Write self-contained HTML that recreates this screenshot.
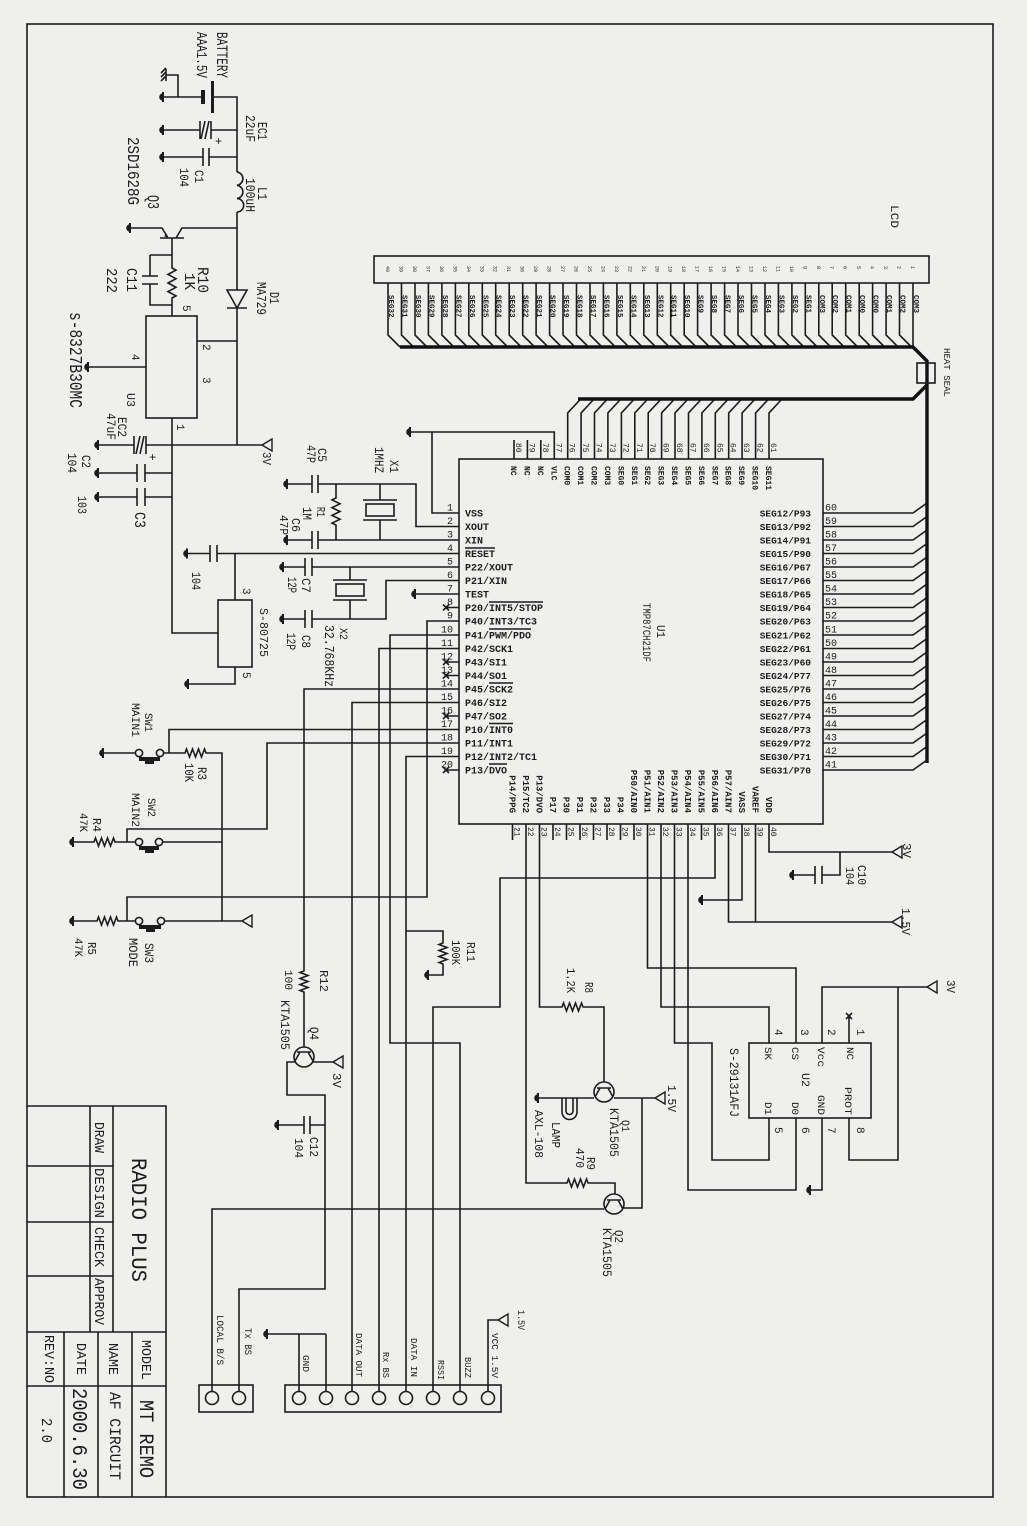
<!DOCTYPE html>
<html><head><meta charset="utf-8"><style>
html,body{margin:0;padding:0;background:#efefed;}
svg{display:block}
text{font-family:"Liberation Mono","DejaVu Sans Mono",monospace;fill:#1c1c1c}
.w{fill:none;stroke:#1c1c1c;stroke-width:1.6}
.k{fill:none;stroke:#111;stroke-width:3.4}
.b{font-weight:bold}
</style></head><body>
<svg width="1027" height="1526" viewBox="0 0 1027 1526" xmlns="http://www.w3.org/2000/svg">
<defs>
<g id="gnd"><path d="M0 -5V5" stroke="#1c1c1c" stroke-width="2"/><path d="M0 -3.8A3.8 3.8 0 0 0 0 3.8Z" fill="#1c1c1c"/></g>
<path id="arr" d="M0 0L10 -6V6Z" fill="none" stroke="#1c1c1c" stroke-width="1.4"/>
</defs>
<rect x="0" y="0" width="1027" height="1526" fill="#efefed"/>
<!-- border -->
<rect x="27" y="24" width="966" height="1473" class="w"/>

<!-- ===== power section ===== -->
<path class="w" d="M163 97H203M213 97H237V172
M237 172a6.7 6.7 0 0 1 0 13.3a6.7 6.7 0 0 1 0 13.3a6.7 6.7 0 0 1 0 13.4
M237 212V290M227 290H247L237 308ZM227 308H247M237 308V445
M197 341H237
M163 130H200M211 130H237M200 121V139M211 121V139M201 139L205 121M205 139L209 121
M163 157H203M209 157H237M203 148V166M209 148V166
M130 228H162L168 238M160 238H184M176 238L182 228H237M172 238V255
M150 255H172V268l4 2.14l-8 4.29l8 4.29l-8 4.29l8 4.29l-8 4.29l8 4.29l-4 2.14V316
M150 255V276M142 276H158M142 284H158M150 284V305H172
M88 367H146M172 418V633H218
M98 445H134M146 445H262M134 436V454M146 436V454M136 454L140 436M140 454L144 436
M98 473H137M145 473H172M137 464V482M145 464V482
M98 497H137M145 497H172M137 488V506M145 488V506
M178 97V75H166M166 69V81M161 73L166 68M161 77L166 72M161 81L166 76"/>
<path d="M201 90h4v14h-4z" fill="#1c1c1c"/>
<path d="M211 81h3v32h-3z" fill="#1c1c1c"/>
<path d="M164 236l4 2l-1 -4z" fill="#1c1c1c"/>
<rect x="146" y="316" width="51" height="102" class="w"/>
<text x="215" y="145" font-size="12">+</text>
<text x="149" y="461" font-size="12">+</text>

<!-- ===== crystal / reset ===== -->
<path class="w" d="M410 432H554.3V459M432 432V513H459
M287 484H312M318 484H416V526.5H459M312 475V493M318 475V493
M336 484V498l-4 1.93l8 3.86l-8 3.86l8 3.86l-8 3.86l8 3.86l-8 3.86l4 1.93V540
M380 484V500M363 500H397M363 520H397M380 520V540
M287 540H312M318 540H459M312 531V549M318 531V549
M187 553.5H210M217 553.5H459M210 545V562M217 545V562M235 553.5V600M235 667V684H188
M283 567H305M312 567H459M305 558V576M312 558V576
M350 567V580M333 580H367M333 600H367M350 600V619
M283 619H305M312 619H386V580.5H459M305 610V628M312 610V628
M415 594H459"/>
<rect x="366" y="504" width="28" height="12" class="w"/>
<rect x="336" y="584" width="28" height="12" class="w"/>
<rect x="218" y="600" width="34" height="67" class="w"/>

<!-- ===== U1 ===== -->
<rect x="459" y="459" width="364" height="365" class="w"/>
<!-- left pin wires -->
<path class="w" d="M445 607.5H459M445 662H459M445 675.5H459M445 716H459M445 770H459
M443 604.5l6 6M443 610.5l6 -6M443 659l6 6M443 665l6 -6M443 672.5l6 6M443 678.5l6 -6M443 713l6 6M443 719l6 -6M443 767l6 6M443 773l6 -6
M459 621H427V897H127V921
M459 635H390V1043H460V1391
M459 648.5H379V1391
M459 689H304V971l-4 1.5l8 3l-8 3l8 3l-8 3l8 3l-8 3l4 1.5V1047
M459 702.5H352V1391
M459 729.5H169V753
M459 743H267V829H127V842
M459 756.5H406V1391M406 931H443V943l-4 1.5l8 3l-8 3l8 3l-8 3l8 3l-8 3l4 1.5V975H428"/>
<!-- switches -->
<path class="w" d="M103 753H135M164 753H185l1.5 -4l3 8l3 -8l3 8l3 -8l3 8l3 -8l1.5 4H222V921
M73 842H94l1.5 -4l3 8l3 -8l3 8l3 -8l3 8l3 -8l1.5 4H135M163 842H222
M73 921H97l1.5 -4l3 8l3 -8l3 8l3 -8l3 8l3 -8l1.5 4H135M165 921H242"/>
<circle cx="139" cy="753" r="3.6" class="w"/><circle cx="160" cy="753" r="3.6" class="w"/>
<circle cx="139" cy="842" r="3.6" class="w"/><circle cx="159" cy="842" r="3.6" class="w"/>
<circle cx="139" cy="921" r="3.6" class="w"/><circle cx="161" cy="921" r="3.6" class="w"/>
<path d="M139 757h21v4h-21zM145 761h9v3h-9zM139 846h20v4h-20zM145 850h9v3h-9zM139 925h22v4h-22zM146 929h9v3h-9z" fill="#1c1c1c"/>

<!-- Q4 / connectors -->
<circle cx="304" cy="1057" r="10" class="w"/>
<path class="w" d="M297 1052H311M300 1052L295 1061M308 1052L313 1061M313 1062H333
M295 1062H287V1095H325V1289H239V1391M325 1125H310M304 1125H278M310 1116V1134M304 1116V1134
M212 1391V1209H604M267 1334H326M299 1334V1391M326 1334V1391M488 1391V1320H498
M715 824V878H500V1007H433V1391"/>
<rect x="199" y="1385" width="54" height="27" class="w"/>
<circle cx="212" cy="1398" r="6.5" class="w"/><circle cx="239" cy="1398" r="6.5" class="w"/>
<rect x="285" y="1385" width="216" height="27" class="w"/>
<circle cx="299" cy="1398" r="6.5" class="w"/><circle cx="326" cy="1398" r="6.5" class="w"/><circle cx="352" cy="1398" r="6.5" class="w"/><circle cx="379" cy="1398" r="6.5" class="w"/><circle cx="406" cy="1398" r="6.5" class="w"/><circle cx="433" cy="1398" r="6.5" class="w"/><circle cx="460" cy="1398" r="6.5" class="w"/><circle cx="488" cy="1398" r="6.5" class="w"/>

<!-- bottom right -->
<path class="w" d="M526 824V1183H567l1.5 -4l3 8l3 -8l3 8l3 -8l3 8l3 -8l1.5 4H615V1194
M539.5 824V1007H562l1.5 -4l3 8l3 -8l3 8l3 -8l3 8l3 -8l1.5 4H604V1082
M594 1098H538M614 1098H655M642 1098V1208H624
M562 1098V1112a7.5 7.5 0 0 0 15 0V1098M566 1098V1111a3.5 3.5 0 0 0 7 0V1098
M597 1088H611M600 1088L595 1097M608 1088L613 1097
M607 1200H621M610 1200L605 1209M618 1200L623 1209
M647.5 824V968H796V1043
M661 824V1007H769V1043
M674.5 824V1043H712V1160H769V1118
M688 824V1190H796V1118
M728.5 824V922H892
M742 824V900H702
M755.5 824V922
M769 824V852H892M840 852V875H822M822 866V884M815 866V884M815 875H793
M822 1043V987H927M898 987V1160H849V1118M849 1043V1016M846 1013l6 6M846 1019l6 -6
M822 1118V1190H810
M769 1028V1043M796 1028V1043M769 1118V1133M796 1118V1133
M512.5 824V840M553 824V840M566.5 824V840M580 824V840M593.5 824V840M607 824V840M620.5 824V840M634 824V840M701.5 824V840"/>
<circle cx="604" cy="1092" r="10" class="w"/>
<circle cx="614" cy="1204" r="10" class="w"/>
<rect x="749" y="1043" width="122" height="75" class="w"/>

<!-- top pins -->
<path class="w" d="M514 440V459M527.4 440V459M540.8 440V459
M567.7 459V413l13 -14M581.1 459V413l13 -14M594.5 459V413l13 -14M607.9 459V413l13 -14M621.4 459V413l13 -14M634.8 459V413l13 -14M648.2 459V413l13 -14M661.6 459V413l13 -14M675 459V413l13 -14M688.5 459V413l13 -14M701.9 459V413l13 -14M715.3 459V413l13 -14M728.7 459V413l13 -14M742.1 459V413l13 -14M755.6 459V413l13 -14M769 459V413l13 -14"/>
<!-- right pins -->
<path class="w" d="M823 513H913l14 -10M823 526.5H913l14 -10M823 540H913l14 -10M823 553.5H913l14 -10M823 567H913l14 -10M823 580.5H913l14 -10M823 594H913l14 -10M823 607.5H913l14 -10M823 621H913l14 -10M823 635H913l14 -10M823 648.5H913l14 -10M823 662H913l14 -10M823 675.5H913l14 -10M823 689H913l14 -10M823 702.5H913l14 -10M823 716H913l14 -10M823 729.5H913l14 -10M823 743H913l14 -10M823 756.5H913l14 -10M823 770H913l14 -10"/>

<!-- LCD -->
<rect x="374" y="256" width="555" height="27" class="w"/>
<path class="w" d="M913 283V347M899.5 283V335l12 12M886.1 283V335l12 12M872.6 283V335l12 12M859.2 283V335l12 12M845.7 283V335l12 12M832.2 283V335l12 12M818.8 283V335l12 12M805.3 283V335l12 12M791.9 283V335l12 12M778.4 283V335l12 12M765 283V335l12 12M751.5 283V335l12 12M738 283V335l12 12M724.6 283V335l12 12M711.1 283V335l12 12M697.6 283V335l12 12M684.2 283V335l12 12M670.7 283V335l12 12M657.3 283V335l12 12M643.8 283V335l12 12M630.3 283V335l12 12M616.9 283V335l12 12M603.4 283V335l12 12M590 283V335l12 12M576.5 283V335l12 12M563 283V335l12 12M549.6 283V335l12 12M536.1 283V335l12 12M522.7 283V335l12 12M509.2 283V335l12 12M495.7 283V335l12 12M482.3 283V335l12 12M468.8 283V335l12 12M455.4 283V335l12 12M441.9 283V335l12 12M428.4 283V335l12 12M415 283V335l12 12M401.5 283V335l12 12M388 283V335l12 12"/>
<path class="k" d="M400 347H913L927 361V763M927 385L913 399H578"/>
<rect x="917" y="363" width="18" height="20" class="w"/>

<!-- title block -->
<path class="w" d="M27 1106H166V1497M90 1106V1332M113 1106V1332M27 1332H166M27 1166H113M27 1222H113M27 1276H113M64 1332V1497M98 1332V1497M132 1332V1497M27 1386H166"/>

<!-- grounds -->
<use href="#gnd" x="163" y="97"/><use href="#gnd" x="163" y="130"/><use href="#gnd" x="163" y="157"/><use href="#gnd" x="130" y="228"/><use href="#gnd" x="88" y="367"/><use href="#gnd" x="98" y="445"/><use href="#gnd" x="98" y="473"/><use href="#gnd" x="98" y="497"/><use href="#gnd" x="410" y="432"/><use href="#gnd" x="287" y="484"/><use href="#gnd" x="287" y="540"/><use href="#gnd" x="187" y="553.5"/><use href="#gnd" x="188" y="684"/><use href="#gnd" x="283" y="567"/><use href="#gnd" x="283" y="619"/><use href="#gnd" x="415" y="594"/><use href="#gnd" x="103" y="753"/><use href="#gnd" x="73" y="842"/><use href="#gnd" x="73" y="921"/><use href="#gnd" x="428" y="975"/><use href="#gnd" x="278" y="1125"/><use href="#gnd" x="267" y="1334"/><use href="#gnd" x="538" y="1098"/><use href="#gnd" x="702" y="900"/><use href="#gnd" x="793" y="875"/><use href="#gnd" x="810" y="1190"/>
<!-- power arrows -->
<use href="#arr" x="262" y="445"/><use href="#arr" x="242" y="921"/><use href="#arr" x="333" y="1062"/><use href="#arr" x="498" y="1320"/><use href="#arr" x="655" y="1098"/><use href="#arr" x="892" y="852"/><use href="#arr" x="892" y="922"/><use href="#arr" x="927" y="987"/>

<!-- ===== rotated component labels ===== -->
<g>
<text transform="translate(217 32) rotate(90)" font-size="16" textLength="46" lengthAdjust="spacingAndGlyphs">BATTERY</text>
<text transform="translate(197 32) rotate(90)" font-size="15" textLength="46" lengthAdjust="spacingAndGlyphs">AAA1.5V</text>
<text transform="translate(258 122) rotate(90)" font-size="14" textLength="18" lengthAdjust="spacingAndGlyphs">EC1</text>
<text transform="translate(246 115) rotate(90)" font-size="14" textLength="27" lengthAdjust="spacingAndGlyphs">22uF</text>
<text transform="translate(195 170) rotate(90)" font-size="13" textLength="13" lengthAdjust="spacingAndGlyphs">C1</text>
<text transform="translate(180 168) rotate(90)" font-size="13" textLength="19" lengthAdjust="spacingAndGlyphs">104</text>
<text transform="translate(258 187) rotate(90)" font-size="14" textLength="13" lengthAdjust="spacingAndGlyphs">L1</text>
<text transform="translate(246 178) rotate(90)" font-size="14" textLength="34" lengthAdjust="spacingAndGlyphs">100uH</text>
<text transform="translate(148 195) rotate(90)" font-size="17" textLength="14" lengthAdjust="spacingAndGlyphs">Q3</text>
<text transform="translate(128 137) rotate(90)" font-size="17" textLength="68" lengthAdjust="spacingAndGlyphs">2SD1628G</text>
<text transform="translate(198 267) rotate(90)" font-size="16" textLength="26" lengthAdjust="spacingAndGlyphs">R10</text>
<text transform="translate(185 273) rotate(90)" font-size="15" textLength="17" lengthAdjust="spacingAndGlyphs">1K</text>
<text transform="translate(127 268) rotate(90)" font-size="15" textLength="24" lengthAdjust="spacingAndGlyphs">C11</text>
<text transform="translate(107 268) rotate(90)" font-size="15" textLength="25" lengthAdjust="spacingAndGlyphs">222</text>
<text transform="translate(270 292) rotate(90)" font-size="14" textLength="12" lengthAdjust="spacingAndGlyphs">D1</text>
<text transform="translate(257 282) rotate(90)" font-size="14" textLength="33" lengthAdjust="spacingAndGlyphs">MA729</text>
<text transform="translate(70 312) rotate(90)" font-size="18" textLength="96" lengthAdjust="spacingAndGlyphs">s-8327B30MC</text>
<text transform="translate(127 393) rotate(90)" font-size="12" textLength="14" lengthAdjust="spacingAndGlyphs">U3</text>
<text transform="translate(118 417) rotate(90)" font-size="13" textLength="20" lengthAdjust="spacingAndGlyphs">EC2</text>
<text transform="translate(107 413) rotate(90)" font-size="13" textLength="27" lengthAdjust="spacingAndGlyphs">47uF</text>
<text transform="translate(263 452) rotate(90)" font-size="12" textLength="13" lengthAdjust="spacingAndGlyphs">3V</text>
<text transform="translate(82 455) rotate(90)" font-size="13" textLength="13" lengthAdjust="spacingAndGlyphs">C2</text>
<text transform="translate(68 453) rotate(90)" font-size="13" textLength="20" lengthAdjust="spacingAndGlyphs">104</text>
<text transform="translate(78 496) rotate(90)" font-size="13" textLength="18" lengthAdjust="spacingAndGlyphs">103</text>
<text transform="translate(135 512) rotate(90)" font-size="16" textLength="16" lengthAdjust="spacingAndGlyphs">C3</text>
<text transform="translate(183 305) rotate(90)" font-size="11">5</text>
<text transform="translate(203 344) rotate(90)" font-size="11">2</text>
<text transform="translate(203 377) rotate(90)" font-size="11">3</text>
<text transform="translate(132 354) rotate(90)" font-size="11">4</text>
<text transform="translate(177 424) rotate(90)" font-size="11">1</text>
<text transform="translate(318 448) rotate(90)" font-size="13" textLength="14" lengthAdjust="spacingAndGlyphs">C5</text>
<text transform="translate(307 445) rotate(90)" font-size="13" textLength="18" lengthAdjust="spacingAndGlyphs">47P</text>
<text transform="translate(390 460) rotate(90)" font-size="13" textLength="13" lengthAdjust="spacingAndGlyphs">X1</text>
<text transform="translate(375 447) rotate(90)" font-size="13" textLength="26" lengthAdjust="spacingAndGlyphs">1MHZ</text>
<text transform="translate(317 507) rotate(90)" font-size="12" textLength="10" lengthAdjust="spacingAndGlyphs">R1</text>
<text transform="translate(303 507) rotate(90)" font-size="13" textLength="13" lengthAdjust="spacingAndGlyphs">1M</text>
<text transform="translate(292 518) rotate(90)" font-size="12" textLength="14" lengthAdjust="spacingAndGlyphs">C6</text>
<text transform="translate(280 515) rotate(90)" font-size="12" textLength="20" lengthAdjust="spacingAndGlyphs">47P</text>
<text transform="translate(192 572) rotate(90)" font-size="13" textLength="18" lengthAdjust="spacingAndGlyphs">104</text>
<text transform="translate(243 588) rotate(90)" font-size="11">3</text>
<text transform="translate(243 672) rotate(90)" font-size="11">5</text>
<text transform="translate(260 608) rotate(90)" font-size="12" textLength="49" lengthAdjust="spacingAndGlyphs">S-80725</text>
<text transform="translate(302 578) rotate(90)" font-size="13" textLength="15" lengthAdjust="spacingAndGlyphs">C7</text>
<text transform="translate(288 577) rotate(90)" font-size="13" textLength="16" lengthAdjust="spacingAndGlyphs">12P</text>
<text transform="translate(302 635) rotate(90)" font-size="13" textLength="13" lengthAdjust="spacingAndGlyphs">C8</text>
<text transform="translate(287 633) rotate(90)" font-size="13" textLength="17" lengthAdjust="spacingAndGlyphs">12P</text>
<text transform="translate(340 628) rotate(90)" font-size="11" textLength="12" lengthAdjust="spacingAndGlyphs">X2</text>
<text transform="translate(325 625) rotate(90)" font-size="14" textLength="62" lengthAdjust="spacingAndGlyphs">32.768KHz</text>
<text transform="translate(145 713) rotate(90)" font-size="11" textLength="19" lengthAdjust="spacingAndGlyphs">SW1</text>
<text transform="translate(132 703) rotate(90)" font-size="11" textLength="34" lengthAdjust="spacingAndGlyphs">MAIN1</text>
<text transform="translate(198 767) rotate(90)" font-size="13" textLength="13" lengthAdjust="spacingAndGlyphs">R3</text>
<text transform="translate(185 763) rotate(90)" font-size="13" textLength="19" lengthAdjust="spacingAndGlyphs">10K</text>
<text transform="translate(148 798) rotate(90)" font-size="11" textLength="19" lengthAdjust="spacingAndGlyphs">SW2</text>
<text transform="translate(132 793) rotate(90)" font-size="11" textLength="34" lengthAdjust="spacingAndGlyphs">MAIN2</text>
<text transform="translate(93 818) rotate(90)" font-size="12" textLength="14" lengthAdjust="spacingAndGlyphs">R4</text>
<text transform="translate(80 813) rotate(90)" font-size="11" textLength="19" lengthAdjust="spacingAndGlyphs">47K</text>
<text transform="translate(88 942) rotate(90)" font-size="12" textLength="13" lengthAdjust="spacingAndGlyphs">R5</text>
<text transform="translate(75 938) rotate(90)" font-size="11" textLength="19" lengthAdjust="spacingAndGlyphs">47K</text>
<text transform="translate(145 943) rotate(90)" font-size="13" textLength="20" lengthAdjust="spacingAndGlyphs">SW3</text>
<text transform="translate(129 938) rotate(90)" font-size="13" textLength="29" lengthAdjust="spacingAndGlyphs">MODE</text>
<text transform="translate(320 970) rotate(90)" font-size="12" textLength="22" lengthAdjust="spacingAndGlyphs">R12</text>
<text transform="translate(285 970) rotate(90)" font-size="11" textLength="20" lengthAdjust="spacingAndGlyphs">100</text>
<text transform="translate(281 1000) rotate(90)" font-size="13" textLength="50" lengthAdjust="spacingAndGlyphs">KTA1505</text>
<text transform="translate(310 1027) rotate(90)" font-size="13" textLength="13" lengthAdjust="spacingAndGlyphs">Q4</text>
<text transform="translate(333 1073) rotate(90)" font-size="12" textLength="15" lengthAdjust="spacingAndGlyphs">3V</text>
<text transform="translate(467 942) rotate(90)" font-size="12" textLength="20" lengthAdjust="spacingAndGlyphs">R11</text>
<text transform="translate(452 940) rotate(90)" font-size="12" textLength="25" lengthAdjust="spacingAndGlyphs">100K</text>
<text transform="translate(310 1137) rotate(90)" font-size="12" textLength="20" lengthAdjust="spacingAndGlyphs">C12</text>
<text transform="translate(295 1138) rotate(90)" font-size="12" textLength="20" lengthAdjust="spacingAndGlyphs">104</text>
<text transform="translate(567 968) rotate(90)" font-size="12" textLength="25" lengthAdjust="spacingAndGlyphs">1.2K</text>
<text transform="translate(585 982) rotate(90)" font-size="12" textLength="11" lengthAdjust="spacingAndGlyphs">R8</text>
<text transform="translate(552 1122) rotate(90)" font-size="12" textLength="26" lengthAdjust="spacingAndGlyphs">LAMP</text>
<text transform="translate(535 1110) rotate(90)" font-size="12" textLength="48" lengthAdjust="spacingAndGlyphs">AXL-108</text>
<text transform="translate(622 1120) rotate(90)" font-size="11" textLength="12" lengthAdjust="spacingAndGlyphs">Q1</text>
<text transform="translate(610 1108) rotate(90)" font-size="13" textLength="49" lengthAdjust="spacingAndGlyphs">KTA1505</text>
<text transform="translate(668 1085) rotate(90)" font-size="12" textLength="27" lengthAdjust="spacingAndGlyphs">1.5V</text>
<text transform="translate(587 1157) rotate(90)" font-size="12" textLength="13" lengthAdjust="spacingAndGlyphs">R9</text>
<text transform="translate(576 1148) rotate(90)" font-size="12" textLength="20" lengthAdjust="spacingAndGlyphs">470</text>
<text transform="translate(615 1230) rotate(90)" font-size="12" textLength="13" lengthAdjust="spacingAndGlyphs">Q2</text>
<text transform="translate(603 1228) rotate(90)" font-size="13" textLength="49" lengthAdjust="spacingAndGlyphs">KTA1505</text>
<text transform="translate(730 1048) rotate(90)" font-size="13" textLength="69" lengthAdjust="spacingAndGlyphs">S-29131AFJ</text>
<text transform="translate(903 843) rotate(90)" font-size="12" textLength="15" lengthAdjust="spacingAndGlyphs">3V</text>
<text transform="translate(858 865) rotate(90)" font-size="12" textLength="20" lengthAdjust="spacingAndGlyphs">C10</text>
<text transform="translate(846 867) rotate(90)" font-size="12" textLength="18" lengthAdjust="spacingAndGlyphs">104</text>
<text transform="translate(902 908) rotate(90)" font-size="12" textLength="27" lengthAdjust="spacingAndGlyphs">1.5V</text>
<text transform="translate(947 980) rotate(90)" font-size="12" textLength="13" lengthAdjust="spacingAndGlyphs">3V</text>
<text transform="translate(765 1047) rotate(90)" font-size="10" textLength="13" lengthAdjust="spacingAndGlyphs">SK</text>
<text transform="translate(792 1047) rotate(90)" font-size="10" textLength="13" lengthAdjust="spacingAndGlyphs">CS</text>
<text transform="translate(818 1047) rotate(90)" font-size="10" textLength="20" lengthAdjust="spacingAndGlyphs">Vcc</text>
<text transform="translate(847 1047) rotate(90)" font-size="10" textLength="13" lengthAdjust="spacingAndGlyphs">NC</text>
<text transform="translate(802 1073) rotate(90)" font-size="11" textLength="14" lengthAdjust="spacingAndGlyphs">U2</text>
<text transform="translate(765 1102) rotate(90)" font-size="10" textLength="13" lengthAdjust="spacingAndGlyphs">D1</text>
<text transform="translate(792 1102) rotate(90)" font-size="10" textLength="13" lengthAdjust="spacingAndGlyphs">D0</text>
<text transform="translate(818 1095) rotate(90)" font-size="10" textLength="20" lengthAdjust="spacingAndGlyphs">GND</text>
<text transform="translate(845 1087) rotate(90)" font-size="10" textLength="28" lengthAdjust="spacingAndGlyphs">PROT</text>
<text transform="translate(775 1029) rotate(90)" font-size="11">4</text>
<text transform="translate(801 1029) rotate(90)" font-size="11">3</text>
<text transform="translate(828 1029) rotate(90)" font-size="11">2</text>
<text transform="translate(857 1029) rotate(90)" font-size="11">1</text>
<text transform="translate(775 1127) rotate(90)" font-size="11">5</text>
<text transform="translate(802 1127) rotate(90)" font-size="11">6</text>
<text transform="translate(828 1127) rotate(90)" font-size="11">7</text>
<text transform="translate(857 1127) rotate(90)" font-size="11">8</text>
<text transform="translate(657 625) rotate(90)" font-size="12" textLength="13" lengthAdjust="spacingAndGlyphs">U1</text>
<text transform="translate(643 603) rotate(90)" font-size="11" textLength="59" lengthAdjust="spacingAndGlyphs">TMP87CH21DF</text>
<text transform="translate(891 205) rotate(90)" font-size="11" textLength="23" lengthAdjust="spacingAndGlyphs">LCD</text>
<text transform="translate(944 348) rotate(90)" font-size="9" textLength="49" lengthAdjust="spacingAndGlyphs">HEAT SEAL</text>
<!-- title block -->
<text transform="translate(132 1158) rotate(90)" font-size="22" textLength="124" lengthAdjust="spacingAndGlyphs">RADIO PLUS</text>
<text transform="translate(95 1122) rotate(90)" font-size="14" textLength="31" lengthAdjust="spacingAndGlyphs">DRAW</text>
<text transform="translate(95 1168) rotate(90)" font-size="14" textLength="50" lengthAdjust="spacingAndGlyphs">DESIGN</text>
<text transform="translate(95 1227) rotate(90)" font-size="14" textLength="40" lengthAdjust="spacingAndGlyphs">CHECK</text>
<text transform="translate(95 1278) rotate(90)" font-size="14" textLength="47" lengthAdjust="spacingAndGlyphs">APPROV</text>
<text transform="translate(142 1340) rotate(90)" font-size="14" textLength="40" lengthAdjust="spacingAndGlyphs">MODEL</text>
<text transform="translate(140 1400) rotate(90)" font-size="20" textLength="78" lengthAdjust="spacingAndGlyphs">MT REMO</text>
<text transform="translate(109 1343) rotate(90)" font-size="14" textLength="32" lengthAdjust="spacingAndGlyphs">NAME</text>
<text transform="translate(110 1392) rotate(90)" font-size="16" textLength="88" lengthAdjust="spacingAndGlyphs">AF CIRCUIT</text>
<text transform="translate(77 1343) rotate(90)" font-size="14" textLength="32" lengthAdjust="spacingAndGlyphs">DATE</text>
<text transform="translate(73 1388) rotate(90)" font-size="21" textLength="102" lengthAdjust="spacingAndGlyphs">2000.6.30</text>
<text transform="translate(45 1335) rotate(90)" font-size="14" textLength="48" lengthAdjust="spacingAndGlyphs">REV:NO</text>
<text transform="translate(42 1418) rotate(90)" font-size="15" textLength="25" lengthAdjust="spacingAndGlyphs">2.0</text>
<!-- connector labels -->
<text transform="translate(217 1315) rotate(90)" font-size="10" textLength="50" lengthAdjust="spacingAndGlyphs">LOCAL B/S</text>
<text transform="translate(245 1328) rotate(90)" font-size="10" textLength="27" lengthAdjust="spacingAndGlyphs">Tx BS</text>
<text transform="translate(303 1355) rotate(90)" font-size="9" textLength="17" lengthAdjust="spacingAndGlyphs">GND</text>
<text transform="translate(356 1333) rotate(90)" font-size="9" textLength="44" lengthAdjust="spacingAndGlyphs">DATA OUT</text>
<text transform="translate(383 1352) rotate(90)" font-size="9" textLength="26" lengthAdjust="spacingAndGlyphs">Rx BS</text>
<text transform="translate(411 1338) rotate(90)" font-size="9" textLength="39" lengthAdjust="spacingAndGlyphs">DATA IN</text>
<text transform="translate(438 1360) rotate(90)" font-size="9" textLength="20" lengthAdjust="spacingAndGlyphs">RSSI</text>
<text transform="translate(465 1357) rotate(90)" font-size="9" textLength="21" lengthAdjust="spacingAndGlyphs">BUZZ</text>
<text transform="translate(492 1333) rotate(90)" font-size="9" textLength="45" lengthAdjust="spacingAndGlyphs">VCC 1.5V</text>
<text transform="translate(518 1310) rotate(90)" font-size="10" textLength="20" lengthAdjust="spacingAndGlyphs">1.5V</text>
</g>

<!-- U1 left labels -->
<g font-size="10" class="b">
<text x="465" y="516.5">VSS</text><text x="465" y="530">XOUT</text><text x="465" y="543.5">XIN</text><text x="465" y="557">RESET</text><text x="465" y="570.5">P22/XOUT</text><text x="465" y="584">P21/XIN</text><text x="465" y="597.5">TEST</text><text x="465" y="611">P20/INT5/STOP</text><text x="465" y="624.5">P40/INT3/TC3</text><text x="465" y="638.5">P41/PWM/PDO</text><text x="465" y="652">P42/SCK1</text><text x="465" y="665.5">P43/SI1</text><text x="465" y="679">P44/SO1</text><text x="465" y="692.5">P45/SCK2</text><text x="465" y="706">P46/SI2</text><text x="465" y="719.5">P47/SO2</text><text x="465" y="733">P10/INT0</text><text x="465" y="746.5">P11/INT1</text><text x="465" y="760">P12/INT2/TC1</text><text x="465" y="773.5">P13/DVO</text>
</g>
<path class="w" stroke-width="1" d="M465 548H495M489 602H543M489 629H531M489 683H513M489 723.5H513M489 764H507"/>
<g font-size="10" text-anchor="end">
<text x="453" y="510.5">1</text><text x="453" y="524">2</text><text x="453" y="537.5">3</text><text x="453" y="551">4</text><text x="453" y="564.5">5</text><text x="453" y="578">6</text><text x="453" y="591.5">7</text><text x="453" y="605">8</text><text x="453" y="618.5">9</text><text x="453" y="632.5">10</text><text x="453" y="646">11</text><text x="453" y="659.5">12</text><text x="453" y="673">13</text><text x="453" y="686.5">14</text><text x="453" y="700">15</text><text x="453" y="713.5">16</text><text x="453" y="727">17</text><text x="453" y="740.5">18</text><text x="453" y="754">19</text><text x="453" y="767.5">20</text>
</g>
<g font-size="9.5" text-anchor="end" class="b">
<text x="811" y="516.5">SEG12/P93</text><text x="811" y="530">SEG13/P92</text><text x="811" y="543.5">SEG14/P91</text><text x="811" y="557">SEG15/P90</text><text x="811" y="570.5">SEG16/P67</text><text x="811" y="584">SEG17/P66</text><text x="811" y="597.5">SEG18/P65</text><text x="811" y="611">SEG19/P64</text><text x="811" y="624.5">SEG20/P63</text><text x="811" y="638.5">SEG21/P62</text><text x="811" y="652">SEG22/P61</text><text x="811" y="665.5">SEG23/P60</text><text x="811" y="679">SEG24/P77</text><text x="811" y="692.5">SEG25/P76</text><text x="811" y="706">SEG26/P75</text><text x="811" y="719.5">SEG27/P74</text><text x="811" y="733">SEG28/P73</text><text x="811" y="746.5">SEG29/P72</text><text x="811" y="760">SEG30/P71</text><text x="811" y="773.5">SEG31/P70</text>
</g>
<g font-size="10">
<text x="825" y="510.5">60</text><text x="825" y="524">59</text><text x="825" y="537.5">58</text><text x="825" y="551">57</text><text x="825" y="564.5">56</text><text x="825" y="578">55</text><text x="825" y="591.5">54</text><text x="825" y="605">53</text><text x="825" y="618.5">52</text><text x="825" y="632.5">51</text><text x="825" y="646">50</text><text x="825" y="659.5">49</text><text x="825" y="673">48</text><text x="825" y="686.5">47</text><text x="825" y="700">46</text><text x="825" y="713.5">45</text><text x="825" y="727">44</text><text x="825" y="740.5">43</text><text x="825" y="754">42</text><text x="825" y="767.5">41</text>
</g>
<!-- top pin labels -->
<g font-size="8" class="b">
<text transform="translate(511 466) rotate(90)">NC</text><text transform="translate(524.4 466) rotate(90)">NC</text><text transform="translate(537.8 466) rotate(90)">NC</text><text transform="translate(551.3 466) rotate(90)">VLC</text><text transform="translate(564.7 466) rotate(90)">COM0</text><text transform="translate(578.1 466) rotate(90)">COM1</text><text transform="translate(591.5 466) rotate(90)">COM2</text><text transform="translate(604.9 466) rotate(90)">COM3</text><text transform="translate(618.4 466) rotate(90)">SEG0</text><text transform="translate(631.8 466) rotate(90)">SEG1</text><text transform="translate(645.2 466) rotate(90)">SEG2</text><text transform="translate(658.6 466) rotate(90)">SEG3</text><text transform="translate(672 466) rotate(90)">SEG4</text><text transform="translate(685.5 466) rotate(90)">SEG5</text><text transform="translate(698.9 466) rotate(90)">SEG6</text><text transform="translate(712.3 466) rotate(90)">SEG7</text><text transform="translate(725.7 466) rotate(90)">SEG8</text><text transform="translate(739.1 466) rotate(90)">SEG9</text><text transform="translate(752.6 466) rotate(90)">SEG10</text><text transform="translate(766 466) rotate(90)">SEG11</text>
</g>
<g font-size="8">
<text transform="translate(516 443) rotate(90)">80</text><text transform="translate(529.4 443) rotate(90)">79</text><text transform="translate(542.8 443) rotate(90)">78</text><text transform="translate(556.3 443) rotate(90)">77</text><text transform="translate(569.7 443) rotate(90)">76</text><text transform="translate(583.1 443) rotate(90)">75</text><text transform="translate(596.5 443) rotate(90)">74</text><text transform="translate(609.9 443) rotate(90)">73</text><text transform="translate(623.4 443) rotate(90)">72</text><text transform="translate(636.8 443) rotate(90)">71</text><text transform="translate(650.2 443) rotate(90)">70</text><text transform="translate(663.6 443) rotate(90)">69</text><text transform="translate(677 443) rotate(90)">68</text><text transform="translate(690.5 443) rotate(90)">67</text><text transform="translate(703.9 443) rotate(90)">66</text><text transform="translate(717.3 443) rotate(90)">65</text><text transform="translate(730.7 443) rotate(90)">64</text><text transform="translate(744.1 443) rotate(90)">63</text><text transform="translate(757.6 443) rotate(90)">62</text><text transform="translate(771 443) rotate(90)">61</text>
</g>
<!-- bottom pin labels -->
<g font-size="9" text-anchor="end" class="b">
<text transform="translate(509.5 813) rotate(90)">P14/PPG</text><text transform="translate(523 813) rotate(90)">P15/TC2</text><text transform="translate(536.5 813) rotate(90)">P13/DVO</text><text transform="translate(550 813) rotate(90)">P17</text><text transform="translate(563.5 813) rotate(90)">P30</text><text transform="translate(577 813) rotate(90)">P31</text><text transform="translate(590.5 813) rotate(90)">P32</text><text transform="translate(604 813) rotate(90)">P33</text><text transform="translate(617.5 813) rotate(90)">P34</text><text transform="translate(631 813) rotate(90)">P50/AIN0</text><text transform="translate(644.5 813) rotate(90)">P51/AIN1</text><text transform="translate(658 813) rotate(90)">P52/AIN2</text><text transform="translate(671.5 813) rotate(90)">P53/AIN3</text><text transform="translate(685 813) rotate(90)">P54/AIN4</text><text transform="translate(698.5 813) rotate(90)">P55/AIN5</text><text transform="translate(712 813) rotate(90)">P56/AIN6</text><text transform="translate(725.5 813) rotate(90)">P57/AIN7</text><text transform="translate(739 813) rotate(90)">VASS</text><text transform="translate(752.5 813) rotate(90)">VAREF</text><text transform="translate(766 813) rotate(90)">VDD</text>
</g>
<g font-size="8">
<text transform="translate(514.5 827) rotate(90)">21</text><text transform="translate(528 827) rotate(90)">22</text><text transform="translate(541.5 827) rotate(90)">23</text><text transform="translate(555 827) rotate(90)">24</text><text transform="translate(568.5 827) rotate(90)">25</text><text transform="translate(582 827) rotate(90)">26</text><text transform="translate(595.5 827) rotate(90)">27</text><text transform="translate(609 827) rotate(90)">28</text><text transform="translate(622.5 827) rotate(90)">29</text><text transform="translate(636 827) rotate(90)">30</text><text transform="translate(649.5 827) rotate(90)">31</text><text transform="translate(663 827) rotate(90)">32</text><text transform="translate(676.5 827) rotate(90)">33</text><text transform="translate(690 827) rotate(90)">34</text><text transform="translate(703.5 827) rotate(90)">35</text><text transform="translate(717 827) rotate(90)">36</text><text transform="translate(730.5 827) rotate(90)">37</text><text transform="translate(744 827) rotate(90)">38</text><text transform="translate(757.5 827) rotate(90)">39</text><text transform="translate(771 827) rotate(90)">40</text>
</g>
<!-- LCD labels -->
<g font-size="7.5" font-weight="bold">
<text transform="translate(914 295) rotate(90)">COM3</text><text transform="translate(900.5 295) rotate(90)">COM2</text><text transform="translate(887.1 295) rotate(90)">COM1</text><text transform="translate(873.6 295) rotate(90)">COM0</text><text transform="translate(860.2 295) rotate(90)">COM0</text><text transform="translate(846.7 295) rotate(90)">COM1</text><text transform="translate(833.2 295) rotate(90)">COM2</text><text transform="translate(819.8 295) rotate(90)">COM3</text><text transform="translate(806.3 295) rotate(90)">SEG1</text><text transform="translate(792.9 295) rotate(90)">SEG2</text><text transform="translate(779.4 295) rotate(90)">SEG3</text><text transform="translate(766 295) rotate(90)">SEG4</text><text transform="translate(752.5 295) rotate(90)">SEG5</text><text transform="translate(739 295) rotate(90)">SEG6</text><text transform="translate(725.6 295) rotate(90)">SEG7</text><text transform="translate(712.1 295) rotate(90)">SEG8</text><text transform="translate(698.6 295) rotate(90)">SEG9</text><text transform="translate(685.2 295) rotate(90)">SEG10</text><text transform="translate(671.7 295) rotate(90)">SEG11</text><text transform="translate(658.3 295) rotate(90)">SEG12</text><text transform="translate(644.8 295) rotate(90)">SEG13</text><text transform="translate(631.3 295) rotate(90)">SEG14</text><text transform="translate(617.9 295) rotate(90)">SEG15</text><text transform="translate(604.4 295) rotate(90)">SEG16</text><text transform="translate(591 295) rotate(90)">SEG17</text><text transform="translate(577.5 295) rotate(90)">SEG18</text><text transform="translate(564 295) rotate(90)">SEG19</text><text transform="translate(550.6 295) rotate(90)">SEG20</text><text transform="translate(537.1 295) rotate(90)">SEG21</text><text transform="translate(523.7 295) rotate(90)">SEG22</text><text transform="translate(510.2 295) rotate(90)">SEG23</text><text transform="translate(496.7 295) rotate(90)">SEG24</text><text transform="translate(483.3 295) rotate(90)">SEG25</text><text transform="translate(469.8 295) rotate(90)">SEG26</text><text transform="translate(456.4 295) rotate(90)">SEG27</text><text transform="translate(442.9 295) rotate(90)">SEG28</text><text transform="translate(429.4 295) rotate(90)">SEG29</text><text transform="translate(416 295) rotate(90)">SEG30</text><text transform="translate(402.5 295) rotate(90)">SEG31</text><text transform="translate(389 295) rotate(90)">SEG32</text>
</g>
<g font-size="5">
<text transform="translate(911 266) rotate(90)">1</text><text transform="translate(897.5 266) rotate(90)">2</text><text transform="translate(884.1 266) rotate(90)">3</text><text transform="translate(870.6 266) rotate(90)">4</text><text transform="translate(857.2 266) rotate(90)">5</text><text transform="translate(843.7 266) rotate(90)">6</text><text transform="translate(830.2 266) rotate(90)">7</text><text transform="translate(816.8 266) rotate(90)">8</text><text transform="translate(803.3 266) rotate(90)">9</text><text transform="translate(789.9 266) rotate(90)">10</text><text transform="translate(776.4 266) rotate(90)">11</text><text transform="translate(763 266) rotate(90)">12</text><text transform="translate(749.5 266) rotate(90)">13</text><text transform="translate(736 266) rotate(90)">14</text><text transform="translate(722.6 266) rotate(90)">15</text><text transform="translate(709.1 266) rotate(90)">16</text><text transform="translate(695.6 266) rotate(90)">17</text><text transform="translate(682.2 266) rotate(90)">18</text><text transform="translate(668.7 266) rotate(90)">19</text><text transform="translate(655.3 266) rotate(90)">20</text><text transform="translate(641.8 266) rotate(90)">21</text><text transform="translate(628.3 266) rotate(90)">22</text><text transform="translate(614.9 266) rotate(90)">23</text><text transform="translate(601.4 266) rotate(90)">24</text><text transform="translate(588 266) rotate(90)">25</text><text transform="translate(574.5 266) rotate(90)">26</text><text transform="translate(561 266) rotate(90)">27</text><text transform="translate(547.6 266) rotate(90)">28</text><text transform="translate(534.1 266) rotate(90)">29</text><text transform="translate(520.7 266) rotate(90)">30</text><text transform="translate(507.2 266) rotate(90)">31</text><text transform="translate(493.7 266) rotate(90)">32</text><text transform="translate(480.3 266) rotate(90)">33</text><text transform="translate(466.8 266) rotate(90)">34</text><text transform="translate(453.4 266) rotate(90)">35</text><text transform="translate(439.9 266) rotate(90)">36</text><text transform="translate(426.4 266) rotate(90)">37</text><text transform="translate(413 266) rotate(90)">38</text><text transform="translate(399.5 266) rotate(90)">39</text><text transform="translate(386 266) rotate(90)">40</text>
</g>
</svg>
</body></html>
